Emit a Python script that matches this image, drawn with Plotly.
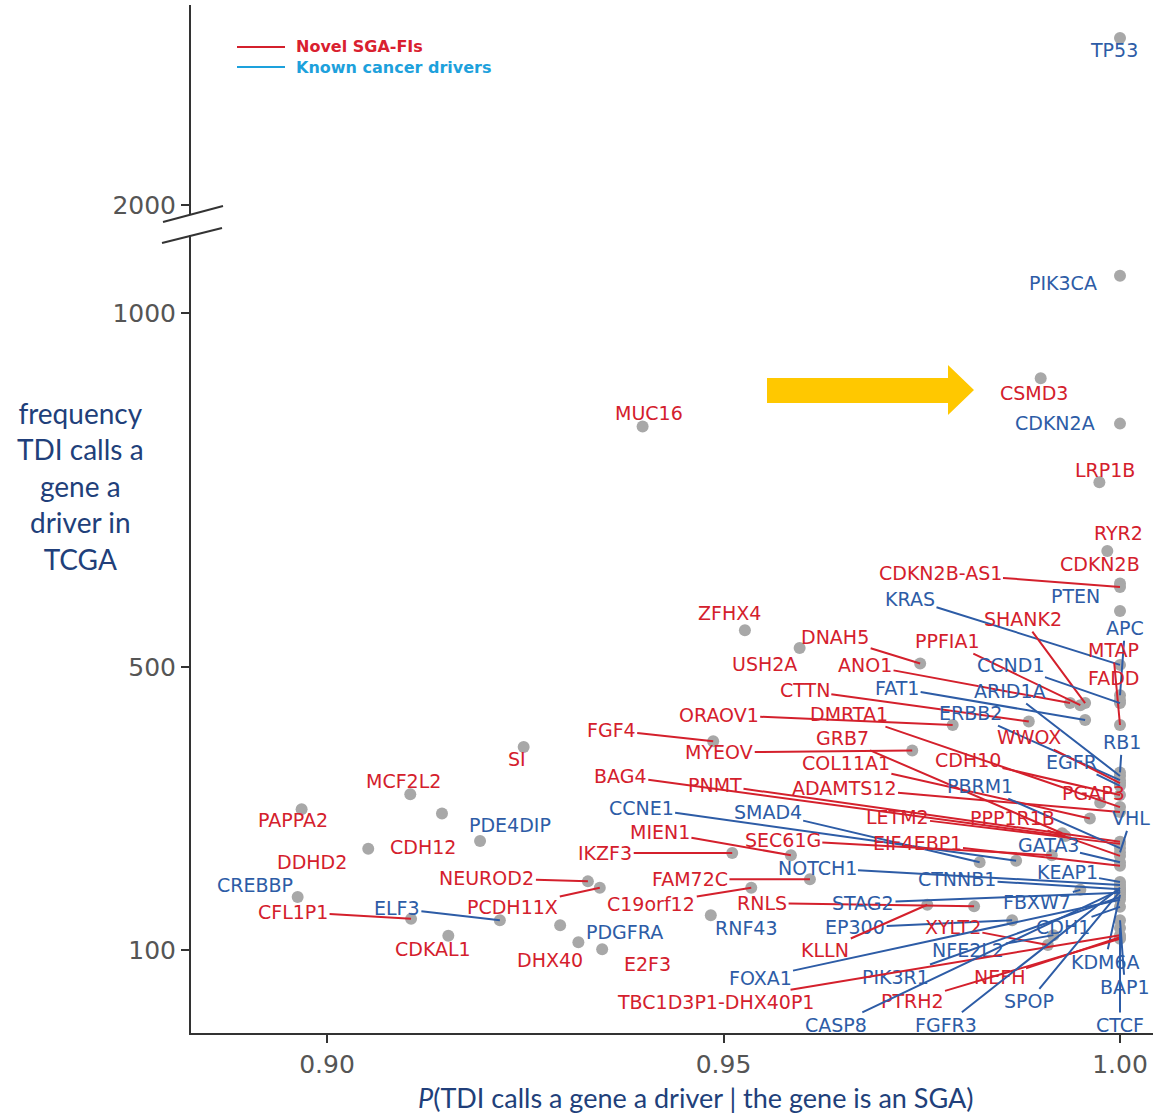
import plotly.graph_objects as go

# ---------------- data ----------------
genes = ["TP53", "PIK3CA", "CSMD3", "MUC16", "CDKN2A", "LRP1B", "RYR2", "CDKN2B", "CDKN2B-AS1", "PTEN",
         "ZFHX4", "KRAS", "SHANK2", "APC", "MTAP", "DNAH5", "PPFIA1", "USH2A", "ANO1", "CCND1",
         "FADD", "CTTN", "FAT1", "ARID1A", "ORAOV1", "DMRTA1", "ERBB2", "FGF4", "GRB7", "WWOX",
         "RB1", "MYEOV", "COL11A1", "CDH10", "EGFR", "BAG4", "PNMT", "ADAMTS12", "PBRM1", "PGAP3",
         "CCNE1", "SMAD4", "LETM2", "PPP1R1B", "VHL", "MIEN1", "SEC61G", "EIF4EBP1", "GATA3", "IKZF3",
         "NOTCH1", "KEAP1", "CTNNB1", "FAM72C", "NEUROD2", "PCDH11X", "C19orf12", "RNLS", "STAG2", "FBXW7",
         "RNF43", "PDGFRA", "EP300", "XYLT2", "CDH1", "KLLN", "NFE2L2", "KDM6A", "FOXA1", "PIK3R1",
         "NEFH", "BAP1", "TBC1D3P1-DHX40P1", "PTRH2", "SPOP", "CASP8", "FGFR3", "CTCF", "SI", "MCF2L2",
         "PAPPA2", "PDE4DIP", "CDH12", "DDHD2", "CREBBP", "CFL1P1", "ELF3", "CDKAL1", "DHX40", "E2F3"]

# K = known cancer driver, N = novel SGA-FI
gene_class = ["K", "K", "N", "N", "K", "N", "N", "N", "N", "K",
              "N", "K", "N", "K", "N", "N", "N", "N", "N", "K",
              "N", "N", "K", "K", "N", "N", "K", "N", "N", "N",
              "K", "N", "N", "N", "K", "N", "N", "N", "K", "N",
              "K", "K", "N", "N", "K", "N", "N", "N", "K", "N",
              "K", "K", "K", "N", "N", "N", "N", "N", "K", "K",
              "K", "K", "K", "N", "K", "N", "K", "K", "K", "K",
              "N", "K", "N", "N", "K", "K", "K", "K", "N", "N",
              "N", "K", "N", "N", "K", "N", "K", "N", "N", "N"]

# P(TDI calls a gene a driver | the gene is an SGA)
p_driver = [1.0, 1.0, 0.9900, 0.9398, 1.0, 0.9974, 0.9984, 1.0, 1.0, 1.0,
            0.9527, 1.0, 0.9956, 1.0, 1.0, 0.9748, 0.9950, 0.9596, 0.9937, 1.0,
            1.0, 0.9885, 0.9956, 1.0, 0.9789, 1.0, 1.0, 0.9487, 0.9927, 1.0,
            1.0, 0.9738, 0.9962, 1.0, 1.0, 0.9931, 1.0, 1.0, 1.0, 0.9975,
            0.9869, 0.9823, 1.0, 1.0, 1.0, 0.9585, 0.9914, 1.0, 1.0, 0.9511,
            1.0, 1.0, 1.0, 0.9609, 0.9329, 0.9344, 0.9535, 0.9816, 1.0, 0.9950,
            0.9484, 0.9294, 0.9864, 0.9909, 1.0, 0.9757, 0.9916, 1.0, 1.0, 1.0,
            1.0, 1.0, 1.0, 1.0, 1.0, 1.0, 1.0, 1.0, 0.9248, 0.9105,
            0.8968, 0.9145, 0.9052, 0.9193, 0.8963, 0.9106, 0.9218, 0.9153, 0.9317, 0.9347]

# frequency TDI calls a gene a driver in TCGA
frequency = [2600, 1053, 908, 840, 844, 761, 664, 618, 613, 579,
             552, 503, 449, 460, 418, 505, 446, 527, 449, 449,
             453, 423, 425, 346, 418, 302, 340, 395, 265, 336,
             351, 382, 286, 319, 332, 261, 253, 295, 244, 308,
             226, 224, 250, 233, 238, 234, 234, 219, 224, 237,
             192, 196, 186, 200, 197, 188, 188, 162, 181, 185,
             149, 135, 142, 107, 161, 164, 121, 178, 171, 175,
             118, 142, 121, 116, 183, 185, 188, 131, 387, 320,
             299, 293, 243, 254, 175, 144, 142, 120, 111, 101]

x_ticks = [0.90, 0.95, 1.00]
x_ticktext = ["0.90", "0.95", "1.00"]
y_ticks_low = [100, 500, 1000]
y_ticks_high = [2000]

legend_names = ["Novel SGA-FIs", "Known cancer drivers"]

# ---------------- label layout (pixel offsets from the point, leader line flag) ----------------
label_layout = [(-6, 12, 0), (-57, 7, 0), (-7, 15, 0), (6, -13, 0), (-65, -1, 0), (6, -12, 0), (11, -18, 0), (-20, -20, 0), (-180, -14, 1), (-45, -15, 0),
                (-15, -17, 0), (-210, -66, 1), (-62, -84, 1), (5, -67, 1), (-7, -75, 1), (-85, -26, 1), (-133, -64, 1), (-35, 16, 0), (-205, -38, 1), (-110, -38, 1),
                (-7, -22, 0), (-224, -31, 1), (-188, -32, 1), (-110, -85, 1), (-234, -10, 1), (-271, -93, 1), (-150, -67, 1), (-102, -11, 1), (-220, -95, 1), (-91, -46, 1),
                (2, -30, 1), (-193, 2, 1), (-244, -55, 1), (-152, -35, 1), (-49, -24, 1), (-445, -60, 1), (-405, -57, 1), (-276, -24, 1), (-140, -62, 1), (-7, -10, 0),
                (-375, -53, 1), (-212, -50, 1), (-223, -27, 1), (-108, -38, 1), (11, -34, 1), (-131, -23, 1), (-269, -15, 1), (-203, -23, 1), (-72, -17, 1), (-127, 0, 1),
                (-303, -17, 1), (-53, -10, 1), (-163, -10, 1), (-120, 0, 1), (-101, -3, 1), (-87, 19, 1), (-100, 16, 1), (-212, -3, 1), (-257, 10, 1), (-43, 12, 1),
                (36, 13, 0), (64, 7, 0), (-157, 7, 1), (-95, -18, 1), (-57, 20, 1), (-102, 45, 1), (-85, 15, 1), (-15, 67, 1), (-360, 78, 1), (-225, 80, 1),
                (-121, 40, 1), (5, 67, 1), (-405, 67, 1), (-208, 62, 1), (-91, 110, 1), (-284, 135, 1), (-174, 137, 1), (0, 97, 1), (-7, 12, 0), (-7, -13, 0),
                (-9, 11, 0), (68, 12, 0), (55, -2, 0), (-168, 21, 0), (-43, -12, 0), (-118, -7, 1), (-103, -12, 1), (-15, 13, 0), (-28, 18, 0), (45, 15, 0)]

# ---------------- styles ----------------
RED = "#D4202C"
BLUE = "#2D5CA6"
LEG_RED = "#D9202F"
LEG_BLUE = "#1DA1DC"
DOT = "#A8A8A8"
AXIS = "#333333"
TICKFONT = dict(family="DejaVu Sans", size=25, color="#555555")
LABELFONT = "DejaVu Sans"
LABELSIZE = 19
TITLE_COLOR = "#213F7A"

W, H = 1153, 1116
PL, PR, PT, PB = 191, 1153, 5, 1033
BREAK_LOW_PX, BREAK_HIGH_PX = 235, 214


def px_x(px):
    return (px - PL) / (PR - PL)


def px_y(py):
    return (PB - py) / (PB - PT)


BREAK_VALUE = 1500  # values above this are on the upper (broken) axis segment

fig = go.Figure()

low_idx = [i for i, f in enumerate(frequency) if f < BREAK_VALUE]
high_idx = [i for i, f in enumerate(frequency) if f >= BREAK_VALUE]

fig.add_trace(go.Scatter(
    x=[p_driver[i] for i in low_idx], y=[frequency[i] for i in low_idx],
    mode="markers", marker=dict(color=DOT, size=12), text=[genes[i] for i in low_idx],
    showlegend=False, hoverinfo="text+x+y", xaxis="x", yaxis="y"))
fig.add_trace(go.Scatter(
    x=[p_driver[i] for i in high_idx], y=[frequency[i] for i in high_idx],
    mode="markers", marker=dict(color=DOT, size=12), text=[genes[i] for i in high_idx],
    showlegend=False, hoverinfo="text+x+y", xaxis="x", yaxis="y2"))

annotations = []
for i, g in enumerate(genes):
    col = RED if gene_class[i] == "N" else BLUE
    yref = "y2" if frequency[i] >= BREAK_VALUE else "y"
    dx, dy, lead = label_layout[i]
    if lead:
        annotations.append(dict(
            x=p_driver[i], y=frequency[i], xref="x", yref=yref, text=g,
            showarrow=True, arrowhead=0, arrowwidth=2, arrowcolor=col,
            ax=dx, ay=dy, standoff=0, startstandoff=0,
            font=dict(family=LABELFONT, size=LABELSIZE, color=col)))
    else:
        annotations.append(dict(
            x=p_driver[i], y=frequency[i], xref="x", yref=yref, text=g,
            showarrow=False, xshift=dx, yshift=-dy,
            font=dict(family=LABELFONT, size=LABELSIZE, color=col)))

# legend (manual, to match the compact two-row key)
shapes = []
for (name, line_col, text_col, row_y) in [(legend_names[0], RED, LEG_RED, 47),
                                          (legend_names[1], LEG_BLUE, LEG_BLUE, 67)]:
    shapes.append(dict(type="line", xref="paper", yref="paper", x0=px_x(237), x1=px_x(285),
                       y0=px_y(row_y), y1=px_y(row_y), line=dict(color=line_col, width=2)))
    annotations.append(dict(x=px_x(295), y=px_y(row_y), xref="paper", yref="paper",
                            text="<b>%s</b>" % name, showarrow=False, xanchor="left", yanchor="middle",
                            borderpad=0,
                            font=dict(family="DejaVu Sans", size=16, color=text_col)))

# axis titles
annotations.append(dict(
    x=px_x(80), y=px_y(486), xref="paper", yref="paper",
    text="frequency<br>TDI calls a<br>gene a<br>driver in<br>TCGA",
    showarrow=False, xanchor="center", yanchor="middle", align="center",
    font=dict(family="Lato", size=28, color=TITLE_COLOR)))
annotations.append(dict(
    x=px_x(695), y=px_y(1097), xref="paper", yref="paper",
    text="<i>P</i>(TDI calls a gene a driver | the gene is an SGA)",
    showarrow=False, xanchor="center", yanchor="middle",
    font=dict(family="Lato", size=27, color=TITLE_COLOR)))

# axis break marks and highlight arrow
shapes += [
    dict(type="line", xref="paper", yref="paper", x0=px_x(163), y0=px_y(222), x1=px_x(223), y1=px_y(206),
         line=dict(color=AXIS, width=2)),
    dict(type="line", xref="paper", yref="paper", x0=px_x(162), y0=px_y(243), x1=px_x(222), y1=px_y(228),
         line=dict(color=AXIS, width=2)),
]
arrow_pts = [(767, 378), (948, 378), (948, 365), (974, 390), (948, 415), (948, 403), (767, 403)]
path = "M " + " L ".join("%.5f,%.5f" % (px_x(a), px_y(b)) for a, b in arrow_pts) + " Z"
shapes.append(dict(type="path", xref="paper", yref="paper", path=path,
                   fillcolor="#FFC800", line=dict(color="#FFC800", width=0)))

# ---------------- axes ----------------
px_per_unit_x = 396.5 / 0.05
x_lo = 0.90 - (327 - PL) / px_per_unit_x
x_hi = 1.00 + (PR - 1120) / px_per_unit_x

low_units_per_px = 400 / (950 - 667)
y_lo = 100 - (PB - 950) * low_units_per_px
y_lo_top = 100 + (950 - BREAK_LOW_PX) * low_units_per_px

high_units_per_px = 600 / (205 - 38)
y_hi_bot = 2000 - (BREAK_HIGH_PX - 205) * high_units_per_px
y_hi_top = 2000 + (205 - PT) * high_units_per_px

axis_common = dict(showline=True, linecolor=AXIS, linewidth=2, ticks="outside", ticklen=8,
                   tickwidth=2, tickcolor=AXIS, showgrid=False, zeroline=False, tickfont=TICKFONT)

fig.update_layout(
    width=W, height=H,
    margin=dict(l=PL, r=W - PR, t=PT, b=H - PB),
    paper_bgcolor="white", plot_bgcolor="white",
    xaxis=dict(range=[x_lo, x_hi], tickvals=x_ticks, ticktext=x_ticktext, anchor="y", **axis_common),
    yaxis=dict(range=[y_lo, y_lo_top], domain=[0, px_y(BREAK_LOW_PX)], tickvals=y_ticks_low,
               ticktext=[str(v) for v in y_ticks_low], anchor="x", **axis_common),
    yaxis2=dict(range=[y_hi_bot, y_hi_top], domain=[px_y(BREAK_HIGH_PX), 1], tickvals=y_ticks_high,
                ticktext=[str(v) for v in y_ticks_high], anchor="x", **axis_common),
    annotations=annotations,
    shapes=shapes,
    showlegend=False,
)

fig.write_html("out.html", include_plotlyjs=True, config={"displayModeBar": False},
               post_script="document.body.style.margin='0';")
